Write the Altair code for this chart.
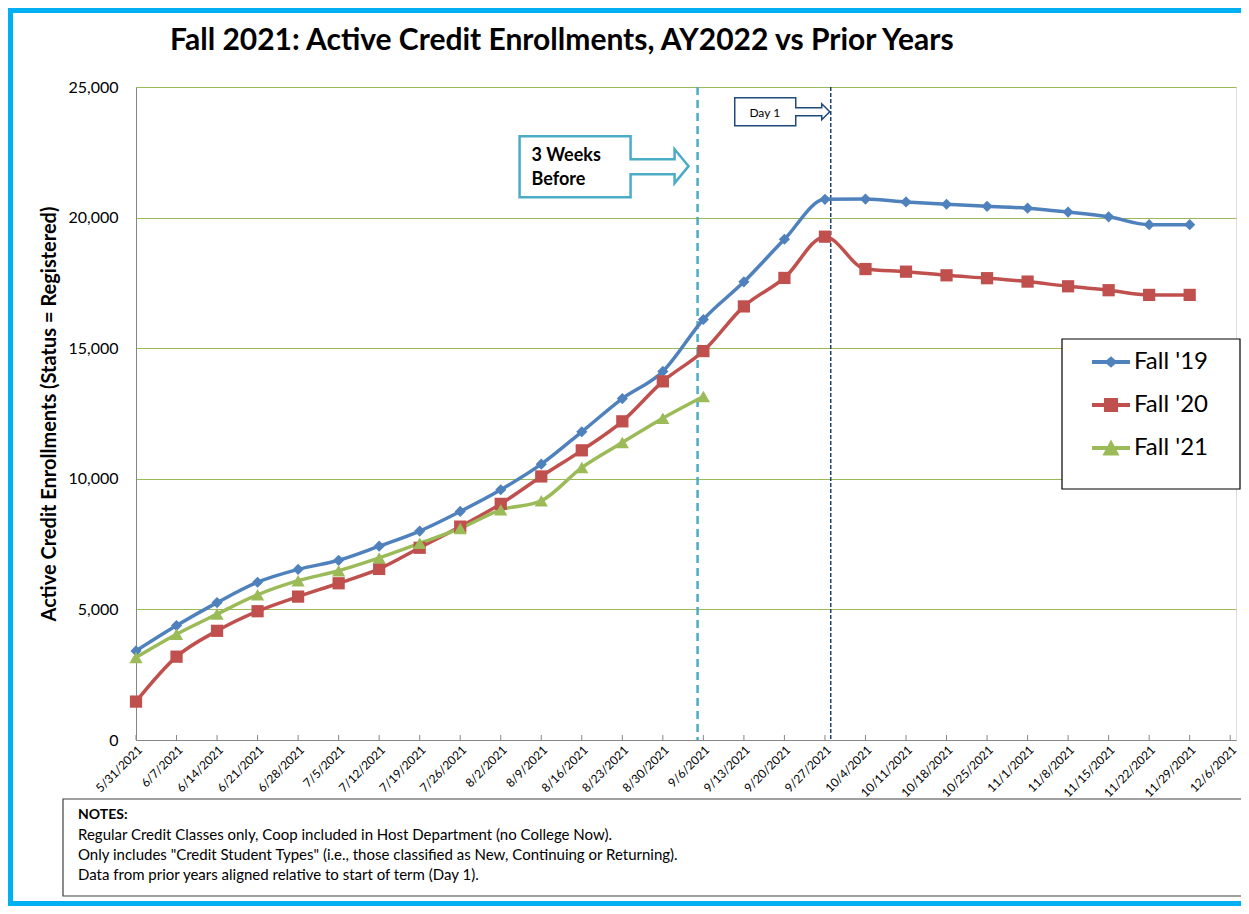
import altair as alt
import pandas as pd

# ---------------- data ----------------
WEEKS = [
    "2021-05-31", "2021-06-07", "2021-06-14", "2021-06-21", "2021-06-28",
    "2021-07-05", "2021-07-12", "2021-07-19", "2021-07-26", "2021-08-02",
    "2021-08-09", "2021-08-16", "2021-08-23", "2021-08-30", "2021-09-06",
    "2021-09-13", "2021-09-20", "2021-09-27", "2021-10-04", "2021-10-11",
    "2021-10-18", "2021-10-25", "2021-11-01", "2021-11-08", "2021-11-15",
    "2021-11-22", "2021-11-29",
]
TICK_DATES = WEEKS + ["2021-12-06"]
DOMAIN_END = "2021-12-07"

SERIES = ["Fall '19", "Fall '20", "Fall '21"]
FALL19 = [3410, 4380, 5260, 6040, 6530, 6880, 7420, 8000, 8750, 9580,
          10560, 11800, 13070, 14110, 16100, 17540, 19170, 20700, 20710, 20600,
          20510, 20430, 20360, 20210, 20030, 19730, 19730]
FALL20 = [1470, 3190, 4180, 4930, 5490, 6000, 6550, 7360, 8170, 9040,
          10090, 11090, 12200, 13730, 14890, 16600, 17690, 19270, 18030, 17930,
          17790, 17680, 17550, 17370, 17220, 17040, 17040]
FALL21 = [3160, 4050, 4820, 5560, 6100, 6480, 6970, 7530, 8100, 8810,
          9160, 10430, 11390, 12320, 13150]

Y_TICKS = [0, 5000, 10000, 15000, 20000, 25000]

THREE_WEEKS_DATE = "2021-09-05"
THREE_WEEKS_Y = 21970
DAY1_DATE = "2021-09-28"
DAY1_Y = 24050

TITLE = "Fall 2021: Active Credit Enrollments, AY2022 vs Prior Years"
Y_TITLE = "Active Credit Enrollments (Status = Registered)"
THREE_WEEKS_TEXT = "3 Weeks\nBefore"
DAY1_TEXT = "Day 1"
NOTES_HEAD = "NOTES:"
NOTES = [
    "Regular Credit Classes only,  Coop included in Host Department (no College Now).",
    "Only includes \"Credit Student Types\" (i.e., those classified as New, Continuing or Returning).",
    "Data from prior years aligned relative to start of term (Day 1).",
]

# ---------------- styles ----------------
COLORS = ["#4F81BD", "#C0504D", "#9BBB59"]
SHAPES = ["diamond", "square", "triangle-up"]
SIZES = [125, 175, 310]
LEGEND_SHAPES = [
    "M-1,-0.1H1V0.1H-1Z M-0.34,0L0,-0.3L0.34,0L0,0.3Z",
    "M-1,-0.1H1V0.1H-1Z M-0.37,-0.37H0.37V0.37H-0.37Z",
    "M-1,-0.1H1V0.1H-1Z M-0.45,0.4L0,-0.45L0.45,0.4Z",
]
FONT = "Lato"
W, H = 1100, 653

rows = []
for name, vals in zip(SERIES, [FALL19, FALL20, FALL21]):
    for d, v in zip(WEEKS, vals):
        rows.append({"date": d, "value": v, "series": name})
df = pd.DataFrame(rows)


def dt(s):
    y, m, d = (int(p) for p in s.split("-"))
    return alt.DateTime(year=y, month=m, date=d, utc=True)


x_scale = alt.Scale(type="utc", domain=[dt(WEEKS[0]), dt(DOMAIN_END)])
y_scale = alt.Scale(domain=[0, 25000], nice=False)

x_axis = alt.Axis(
    values=[dt(s) for s in TICK_DATES],
    labelExpr="utcFormat(datum.value, '%-m/%-d/%Y')",
    labelAngle=-45, labelFontSize=12, labelFont=FONT, labelColor="black",
    labelAlign="right", labelBaseline="top",
    ticks=False, grid=False, labelPadding=4, title=None,
    domainColor="#868686", labelOverlap=False,
)
y_axis = alt.Axis(
    values=Y_TICKS, labelExpr="format(datum.value, ',')",
    labelFontSize=16, labelFont=FONT, labelColor="black",
    ticks=False, grid=True, gridColor="#9BBB59", gridWidth=1, labelPadding=18,
    domainColor="#868686", title=Y_TITLE, titleFont=FONT, titleFontSize=20,
    titleFontWeight="bold", titleColor="black", titlePadding=8,
)

X = alt.X("date:T", scale=x_scale, axis=x_axis)
Y = alt.Y("value:Q", scale=y_scale, axis=y_axis)

one = alt.Data(values=[{}])

border = alt.Chart(one).mark_rect(fillOpacity=0, stroke="#00B0F0", strokeWidth=5).encode(
    x=alt.value(-125.5), x2=alt.value(W + 40), y=alt.value(-76.5), y2=alt.value(H + 163.5)
)
notes_box = alt.Chart(one).mark_rect(fillOpacity=0, stroke="#404040", strokeWidth=1.2).encode(
    x=alt.value(-73), x2=alt.value(W + 40), y=alt.value(712), y2=alt.value(809)
)

lines = alt.Chart(df).mark_line(interpolate="monotone", strokeWidth=3.5).encode(
    x=X, y=Y,
    color=alt.Color("series:N", scale=alt.Scale(domain=SERIES, range=COLORS), legend=None),
    detail="series:N",
)
points = alt.Chart(df).mark_point(filled=True, opacity=1).encode(
    x=X, y=Y,
    color=alt.Color("series:N", scale=alt.Scale(domain=SERIES, range=COLORS), legend=None),
    shape=alt.Shape("series:N", scale=alt.Scale(domain=SERIES, range=SHAPES), legend=None),
    size=alt.Size("series:N", scale=alt.Scale(domain=SERIES, range=SIZES), legend=None),
)

tick_df = pd.DataFrame({"date": TICK_DATES})
xticks = alt.Chart(tick_df).mark_rule(color="#868686", strokeWidth=1).encode(
    x=X, y=alt.value(H - 5), y2=alt.value(H)
)

rule3 = alt.Chart(pd.DataFrame({"date": [THREE_WEEKS_DATE]})).mark_rule(
    color="#4BACC6", strokeWidth=2.5, strokeDash=[8, 5]
).encode(x=X)
rule1 = alt.Chart(pd.DataFrame({"date": [DAY1_DATE]})).mark_rule(
    color="#1F3F75", strokeWidth=1.5, strokeDash=[4, 2]
).encode(x=X)

c3_df = pd.DataFrame({"date": [THREE_WEEKS_DATE], "value": [THREE_WEEKS_Y]})
callout3 = alt.Chart(c3_df).mark_point(
    shape="M-178,-30H-67V-7H-23V-17L-9,0L-23,17V8H-67V31H-178Z",
    size=4, filled=True, fill="white", stroke="#4BACC6", strokeWidth=2.5, opacity=1,
).encode(x=X, y=Y)
callout3_text = alt.Chart(c3_df).mark_text(
    text=THREE_WEEKS_TEXT, lineBreak="\n", lineHeight=24, align="left", baseline="middle",
    dx=-166, dy=-10, font=FONT, fontSize=18, fontWeight="bold", color="black",
).encode(x=X, y=Y)

c1_df = pd.DataFrame({"date": [DAY1_DATE], "value": [DAY1_Y]})
callout1 = alt.Chart(c1_df).mark_point(
    shape="M-96,-14H-35V-4H-9V-8L-1,0L-9,8V4H-35V14H-96Z",
    size=4, filled=True, fill="white", stroke="#1F497D", strokeWidth=1.5, opacity=1,
).encode(x=X, y=Y)
callout1_text = alt.Chart(c1_df).mark_text(
    text=DAY1_TEXT, align="center", baseline="middle", dx=-66, dy=1,
    font=FONT, fontSize=12, color="black",
).encode(x=X, y=Y)

legend_box = alt.Chart(one).mark_rect(fill="white", stroke="black", strokeWidth=1.2).encode(
    x=alt.value(926), x2=alt.value(1104), y=alt.value(252), y2=alt.value(402)
)
leg_params = dict(
    orient="none", legendX=956, legendY=256, title=None, padding=0,
    labelFont=FONT, labelFontSize=24, labelColor="black", labelOffset=4,
    symbolSize=1444, symbolStrokeWidth=0, symbolOpacity=1, rowPadding=12,
)
legend_layer = alt.Chart(pd.DataFrame({"series": SERIES})).mark_point(
    filled=True, opacity=0
).encode(
    color=alt.Color("series:N", scale=alt.Scale(domain=SERIES, range=COLORS),
                    legend=alt.Legend(**leg_params)),
    shape=alt.Shape("series:N", scale=alt.Scale(domain=SERIES, range=LEGEND_SHAPES),
                    legend=alt.Legend(**leg_params)),
)

notes_head = alt.Chart(one).mark_text(
    text=NOTES_HEAD, align="left", baseline="middle", font=FONT, fontSize=14,
    fontWeight="bold", color="black",
).encode(x=alt.value(-58), y=alt.value(728))
notes_body = alt.Chart(one).mark_text(
    text="\n".join(NOTES), lineBreak="\n", lineHeight=20, align="left", baseline="top",
    font=FONT, fontSize=15, color="black",
).encode(x=alt.value(-58), y=alt.value(741))

chart = alt.layer(
    border, notes_box, xticks, rule3, rule1, callout3, callout3_text, callout1,
    callout1_text, lines, points, legend_box, legend_layer, notes_head, notes_body,
).resolve_scale(
    color="independent", shape="independent", size="independent"
).properties(
    width=W, height=H,
    padding={"left": 128, "top": 79, "right": 5, "bottom": 166},
    autosize=alt.AutoSizeParams(type="none"),
    background="white",
    title=alt.TitleParams(
        text=TITLE, font=FONT, fontSize=30, fontWeight="bold", color="black",
        anchor="start", frame="group", dx=34, offset=0, dy=72, baseline="alphabetic",
    ),
).configure_view(strokeWidth=0).configure(font=FONT)

chart.save("out.html", embed_options={"renderer": "svg", "actions": False})
